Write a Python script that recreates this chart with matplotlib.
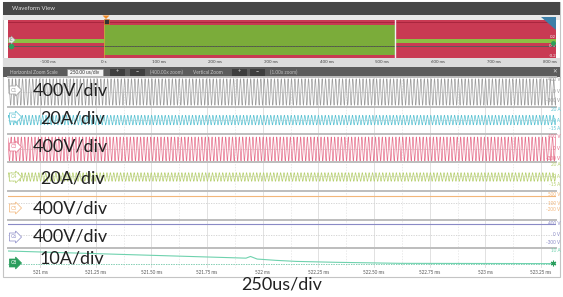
import numpy as np
import matplotlib.pyplot as plt
from matplotlib.patches import Rectangle, Polygon

plt.rcParams['font.family'] = ['Lato', 'DejaVu Sans']

W, H = 563, 297

# Zoomed time window (ms) and its tick labels
t_start, t_end = 520.856, 523.317
tick_times = [521.0, 521.25, 521.5, 521.75, 522.0, 522.25, 522.5, 522.75, 523.0, 523.25]
tick_labels = ["521 ms", "521.25 ms", "521.50 ms", "521.75 ms", "522 ms",
               "522.25 ms", "522.50 ms", "522.75 ms", "523 ms", "523.25 ms"]

# Overview strip
ov_start, ov_end = -171.8, 811.5
ov_ticks = [-100, 0, 100, 200, 300, 400, 500, 600, 700, 800]
ov_labels = ["-100 ms", "0 s", "100 ms", "200 ms", "300 ms", "400 ms",
             "500 ms", "600 ms", "700 ms", "800 ms"]
zoom_window = [0, 523.3]
ov_box = [-0.18, 0.44]
ov_band = [0.06, 0.16]
ov_levels = [0.2, 0, -0.2]
ov_level_text = ["0.2", "0 V", "-0.2"]

# Channels
ch_names = ["C1", "C2", "C3", "C4", "C5", "C6", "C8"]
ch_scales = ["400V/div", "20A/div", "400V/div", "20A/div", "400V/div", "400V/div", "10A/div"]
ch_colors = ["#9c9c9c", "#5cc3d3", "#e66f8b", "#b6cf6e", "#f2b67a", "#8a8ac6", "#6fd2ae"]
ch_levels = [[400, 0, -300], [20, 0, -15], [400, 0, -300], [20, 0, -15],
             [500, 100, -200], [400, 0, -300], [10]]
ch_level_text = [["400 V", "0 V", "-300 V"], ["20 A", "0 A", "-15 A"],
                 ["400 V", "0 V", "-300 V"], ["20 A", "0 A", "-15 A"],
                 ["500 V", "100 V", "-200 V"], ["400 V", "0 V", "-300 V"], ["10 A"]]

# AC channels C1..C4: peak amplitude, offset, carrier frequency (kHz)
ac_amp = [440, 9, 400, 7.5]
ac_offset = [0, 0, 0, -1]
ac_phase = [0.0, 0.6, 2.1, 1.3]
carrier_khz = 65.4

# DC channels
c5_level = 430
c6_level = 390

# C8 current (A)
c8_t = [520.856, 521.925, 521.945, 521.975, 522.01, 522.06, 522.15, 522.33, 522.62, 523.317]
c8_i = [10.0, 4.5, 5.8, 3.8, 3.4, 2.8, 2.0, 1.3, 0.5, 0.3]

# ---- layout (pixels) ----
x0, x1 = 8, 556
panel_top = [77, 107, 134, 162, 191, 220, 248]
panel_bot = [106, 133, 161, 190, 219, 247, 268]
# pixel rows of the first/last level label, used to set the y scale
cal = [((400, 80), (-300, 101)), ((20, 109.5), (-15, 128)), ((400, 137), (-300, 158)),
       ((20, 165), (-15, 185)), ((500, 195), (-200, 209.5)), ((400, 223.5), (-300, 243)),
       ((10, 251), (0, 264))]
tag_y = [90, 117, 147, 177, 208, 237, 263]
scale_x = [33, 40, 33, 40, 33, 33, 40]
scale_y = [90, 118, 147, 178, 208, 237, 259]


def rect(xa, xb, top, bot):
    return [xa / W, 1 - bot / H, (xb - xa) / W, (bot - top) / H]


fig = plt.figure(figsize=(W / 100, H / 100), dpi=100)
fig.patch.set_facecolor("white")

bg = fig.add_axes([0, 0, 1, 1], zorder=0)
bg.set_xlim(0, W)
bg.set_ylim(H, 0)
bg.axis("off")

bg.add_patch(Rectangle((3, 2), 557, 275, fc="white", ec="#c4c4c4", lw=0.8))
bg.add_patch(Rectangle((3, 2), 557, 13, fc="#474747", ec="none"))
bg.text(12, 8.8, "Waveform View", color="#e4e4e4", fontsize=4.3, va="center")
bg.add_patch(Rectangle((3, 15), 557, 5, fc="#e8e8e8", ec="none"))
bg.add_patch(Rectangle((3, 58), 557, 9, fc="#dcdcdc", ec="none"))
bg.add_patch(Rectangle((3, 67), 557, 10, fc="#5c5c5c", ec="none"))

# zoom control bar
bar_y = 72
bg.text(10, bar_y, "Horizontal Zoom Scale", color="#c8c8c8", fontsize=3.4, va="center")
bg.add_patch(Rectangle((67, 68.5), 36, 7, fc="#f4f4f4", ec="#888888", lw=0.4))
bg.text(85, bar_y, "250.00 us/div", color="#333333", fontsize=3.4, va="center", ha="center")
for bx in [110, 130, 232, 250]:
    bg.add_patch(Rectangle((bx, 68.5), 15, 7, fc="#3e3e3e", ec="none"))
for bx, s in [(117.5, "+"), (137.5, "\u2212"), (239.5, "+"), (257.5, "\u2212")]:
    bg.text(bx, bar_y, s, color="#dddddd", fontsize=4, va="center", ha="center")
bg.text(150, bar_y, "(400.00x zoom)", color="#bdbdbd", fontsize=3.4, va="center")
bg.text(193, bar_y, "Vertical Zoom", color="#c8c8c8", fontsize=3.4, va="center")
bg.text(270, bar_y, "(1.00x zoom)", color="#bdbdbd", fontsize=3.4, va="center")
bg.text(555, bar_y, "\u2715", color="#dddddd", fontsize=4, va="center", ha="center")

# ---- overview ----
ov = fig.add_axes(rect(x0, x1, 20, 58), zorder=1)
ov.set_facecolor("#c93a53")
ov.set_xlim(ov_start, ov_end)
ov.set_ylim(-0.24, 0.54)
ov.axhline(0.49, color="#a3233b", lw=0.6)
ov.axhspan(ov_band[0], ov_band[1], color="#8cbf44", lw=0)
ov.axhline(0, color="#5a5a5a", lw=0.7)
ov.fill_between(zoom_window, ov_box[0], ov_box[1], color="#7bac3a", lw=0)
ov.plot(zoom_window, [0, 0], color="#4f6e2a", lw=0.5, ls=(0, (2, 2)))
ov.axvline(zoom_window[1], color="#f2f2f2", lw=1.0)
ov.axvline(zoom_window[0], color="#e0a040", lw=0.5)
ov.set_xticks(ov_ticks, ov_labels)
ov.tick_params(axis="x", length=0, pad=1.6, labelsize=3.2, labelcolor="#444444")
ov.set_yticks([])
for sp in ov.spines.values():
    sp.set_visible(False)
for v, s in zip(ov_levels, ov_level_text):
    ov.text(1.0, v, s, transform=ov.get_yaxis_transform(), ha="right", va="center",
            fontsize=3.2, color="#f0f0f0")

fg = fig.add_axes([0, 0, 1, 1], zorder=10)
fg.set_xlim(0, W)
fg.set_ylim(H, 0)
fg.axis("off")
fg.patch.set_alpha(0)

# overview markers
fg.add_patch(Polygon([[102.5, 15.5], [109.5, 15.5], [106, 19]], fc="#f08a24", ec="none"))
fg.add_patch(Rectangle((103.5, 19), 5, 5, fc="#333333", ec="#f08a24", lw=0.4))
fg.add_patch(Polygon([[541, 17], [556, 17], [556, 30]], fc="#3d7fa8", ec="none"))
fg.text(11, 40, "C", fontsize=2.8, color="#555555", ha="center", va="center",
        bbox=dict(boxstyle="rarrow,pad=0.2", fc="#e8e8e8", ec="#999999", lw=0.3))
fg.plot([11], [46], "o", ms=3, color="#2e9e5b")
fg.plot([553], [43], "o", ms=2.5, color="#2e9e5b")

# ---- channels ----
t = np.linspace(t_start, t_end, 9000)
axes = []
for k in range(7):
    ax = fig.add_axes(rect(x0, x1, panel_top[k], panel_bot[k]), zorder=2)
    ax.set_facecolor("white")
    (v1, p1), (v2, p2) = cal[k]
    s = (v1 - v2) / (p2 - p1)
    ax.set_ylim(v2 - (panel_bot[k] - p2) * s, v1 + (p1 - panel_top[k]) * s)
    ax.set_xlim(t_start, t_end)

    for tt in tick_times:
        ax.axvline(tt, color="#dcdcdc", lw=0.6, zorder=0)
        ax.axvline(tt + 0.125, color="#e2e2e2", lw=0.5, ls=(0, (2, 2)), zorder=0)
    zero = 0 if k != 4 else 100
    ax.axhline(zero, color="#cfcfcf", lw=0.6, ls=(0, (1.5, 1.5)), zorder=0)

    c = ch_colors[k]
    if k < 4:
        y = ac_offset[k] + ac_amp[k] * np.sin(2 * np.pi * carrier_khz * t + ac_phase[k])
        ax.plot(t, y, color=c, lw=0.5)
    elif k == 4:
        ax.plot([t_start, t_end], [c5_level, c5_level], color=c, lw=0.8)
    elif k == 5:
        ax.plot([t_start, t_end], [c6_level, c6_level], color=c, lw=0.8)
    else:
        ax.plot([t_start, t_end], [0, 0], color=c, lw=0.6, ls=(0, (1.5, 1.5)))
        ax.plot(c8_t, c8_i, color=c, lw=0.8)

    for v, s_txt in zip(ch_levels[k], ch_level_text[k]):
        ax.text(1.008, v, s_txt, transform=ax.get_yaxis_transform(), ha="right",
                va="center", fontsize=3.3, color=c, clip_on=False)

    ax.set_yticks([])
    for name, sp in ax.spines.items():
        sp.set_visible(name == "top")
    ax.spines["top"].set_color("#bdbdbd")
    ax.spines["top"].set_linewidth(1.4)
    if k < 6:
        ax.set_xticks([])
    else:
        ax.set_xticks(tick_times, tick_labels)
        ax.tick_params(axis="x", length=0, pad=1.5, labelsize=3.3, labelcolor="#555555")
    axes.append(ax)

# channel tags, big scale texts
for k in range(7):
    c = ch_colors[k]
    if ch_names[k] == "C8":
        fg.text(14, tag_y[k], ch_names[k], fontsize=3.6, color="white", ha="center",
                va="center", bbox=dict(boxstyle="rarrow,pad=0.3", fc="#2a9d5c",
                                       ec="#2a9d5c", lw=0.5))
        fg.plot([553], [tag_y[k]], marker=(6, 2, 0), ms=4, color="#2a9d5c", mew=0.8)
    else:
        fg.text(14, tag_y[k], ch_names[k], fontsize=3.6, color=c, ha="center",
                va="center", bbox=dict(boxstyle="rarrow,pad=0.3", fc="white",
                                       ec=c, lw=0.5))
    fg.text(scale_x[k], scale_y[k], ch_scales[k], fontsize=13, color="#222222",
            ha="left", va="center")

fg.text(282, 285, "250us/div", fontsize=13, color="#222222", ha="center", va="center")

fig.savefig("out.png", dpi=100)
